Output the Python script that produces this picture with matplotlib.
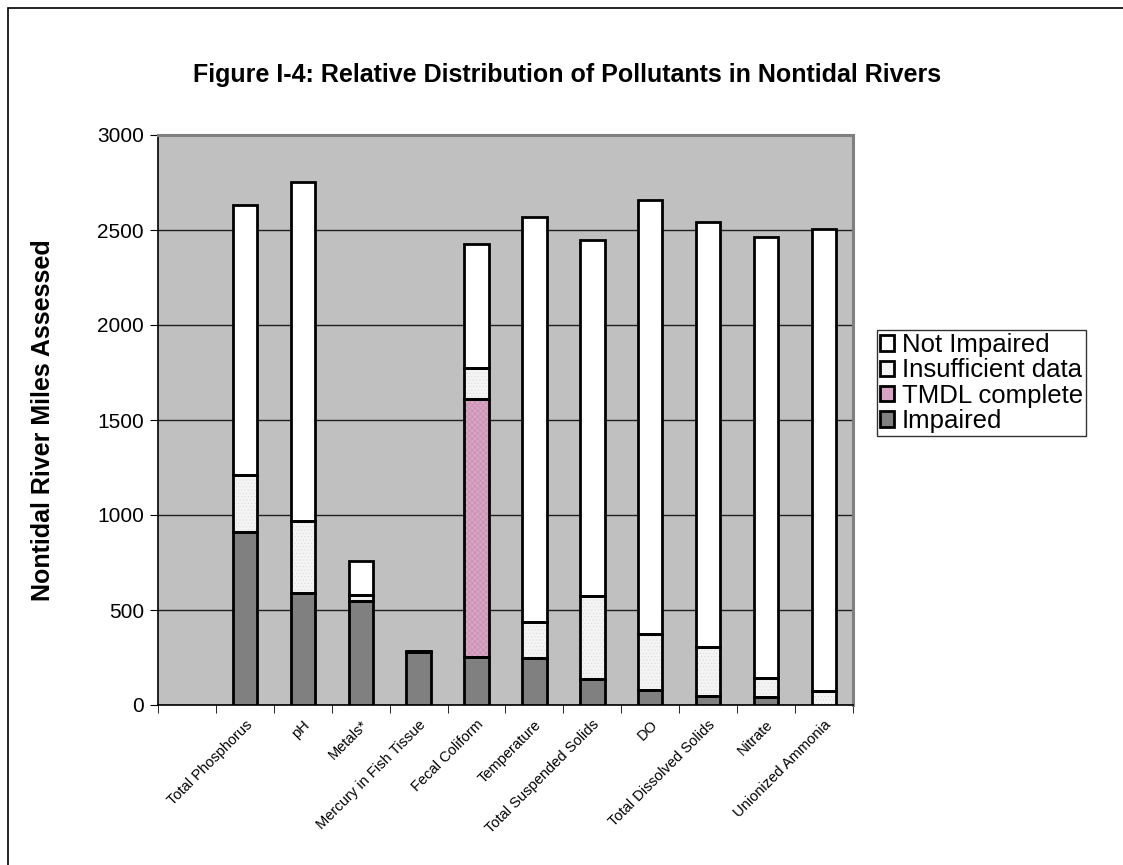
import matplotlib
matplotlib.use("Agg")
import matplotlib.pyplot as plt
from matplotlib.patches import Rectangle, Patch
import numpy as np

categories = ["", "Total Phosphorus", "pH", "Metals*", "Mercury in Fish Tissue",
              "Fecal Coliform", "Temperature", "Total Suspended Solids", "DO",
              "Total Dissolved Solids", "Nitrate", "Unionized Ammonia"]
impaired      = [0, 910, 590, 545, 278, 255, 245, 135, 77, 50, 40, 0]
tmdl_complete = [0, 0, 0, 0, 0, 1355, 0, 0, 0, 0, 0, 0]
insufficient  = [0, 300, 380, 35, 4, 165, 190, 440, 297, 255, 100, 75]
not_impaired  = [0, 1420, 1780, 180, 4, 650, 2135, 1875, 2286, 2235, 2325, 2430]

yticks = [0, 500, 1000, 1500, 2000, 2500, 3000]

plt.rcParams['font.family'] = ['Liberation Sans', 'DejaVu Sans']
plt.rcParams['hatch.linewidth'] = 0.5

W, H = 1123, 865
fig = plt.figure(figsize=(W/100, H/100), dpi=100)
fig.patch.set_facecolor('white')

ax = fig.add_axes([158/W, 1-705/H, (853-158)/W, (705-135)/H])
ax.set_facecolor('#C0C0C0')

x = np.arange(len(categories))
bw = 0.42

series = [
    ("Impaired", impaired, '#808080', None, '#808080'),
    ("TMDL complete", tmdl_complete, '#D9A3C3', 'xxxxxx', '#C690B0'),
    ("Insufficient data", insufficient, '#F4F4F4', '.....', '#E0E0E0'),
    ("Not Impaired", not_impaired, '#FFFFFF', None, '#FFFFFF'),
]
bottom = np.zeros(len(categories))
handles = []
for name, vals, fc, hatch, hc in series:
    vals = np.array(vals, dtype=float)
    mask = vals > 0
    ax.bar(x[mask], vals[mask], bw, bottom=bottom[mask], color=fc,
           hatch=hatch, edgecolor=hc, linewidth=0, zorder=3)
    ax.bar(x[mask], vals[mask], bw, bottom=bottom[mask], fill=False,
           edgecolor='black', linewidth=2.0, zorder=4)
    bottom += vals
    handles.append(Patch(facecolor=fc, edgecolor='black',
                         linewidth=2.0, label=name))

ax.set_xlim(-0.5, len(categories)-0.5)
ax.set_ylim(0, 3000)
ax.set_yticks(yticks)
ax.set_yticklabels([str(v) for v in yticks], fontsize=15)
ax.yaxis.grid(True, color='#202020', linewidth=1.0, zorder=1)
ax.set_axisbelow(True)

ax.set_xticks(x)
ax.set_xticklabels(categories, rotation=45, ha='right', rotation_mode='anchor',
                   fontsize=10.5)
ax.tick_params(axis='x', which='major', length=0, pad=9)
ax.set_xticks(np.arange(-0.5, len(categories)), minor=True)
ax.tick_params(axis='x', which='minor', length=6, direction='out', color='black')
ax.tick_params(axis='y', length=6, direction='out', color='black', pad=4)

for s in ['top', 'right']:
    ax.spines[s].set_color('#808080')
    ax.spines[s].set_linewidth(2.2)
for s in ['left', 'bottom']:
    ax.spines[s].set_color('black')
    ax.spines[s].set_linewidth(1.2)

ax.set_ylabel("Nontidal River Miles Assessed", fontsize=18, fontweight='bold')
ax.yaxis.set_label_coords((55-158)/(853-158), 0.5)

fig.text(567/W, 1-75/H, "Figure I-4: Relative Distribution of Pollutants in Nontidal Rivers",
         ha='center', va='center', fontsize=18, fontweight='bold')

leg = fig.legend(handles=handles[::-1], loc='lower left',
                 bbox_to_anchor=(877/W, 1-436/H), fontsize=18.5,
                 frameon=True, fancybox=False, handlelength=0.55, handleheight=0.55,
                 handletextpad=0.3, labelspacing=0.05, borderpad=0.12, borderaxespad=0)
leg.get_frame().set_edgecolor('black')
leg.get_frame().set_linewidth(1.0)

fig.patches.append(Rectangle((8/W, -0.1), 1.2, 1.1-8/H, transform=fig.transFigure,
                             fill=False, edgecolor='black', linewidth=1.2))

fig.savefig("out.png", dpi=100)
